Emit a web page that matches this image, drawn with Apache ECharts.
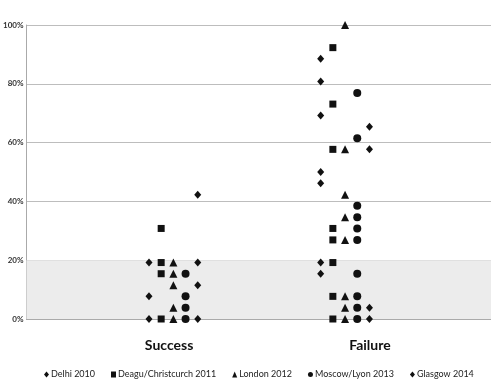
<!DOCTYPE html>
<html>
<head>
<meta charset="utf-8">
<script src="https://cdn.jsdelivr.net/npm/echarts@6/dist/echarts.min.js"></script>
<style>html,body{margin:0;padding:0;background:#fff}#c{width:491px;height:391px}</style>
</head>
<body>
<div id="c"></div>
<script>
// Categories and series names
const categories = ['Success', 'Failure'];
const seriesNames = ['Delhi 2010', 'Deagu/Christcurch 2011', 'London 2012', 'Moscow/Lyon 2013', 'Glasgow 2014'];
const yTicks = ['0%', '20%', '40%', '60%', '80%', '100%'];

// Values (% of events) per series, per category [Success, Failure]
const delhi2010   = [[19.2, 7.7, 0], [88.5, 80.8, 69.2, 50.0, 46.2, 19.2, 15.4]];
const deagu2011   = [[30.8, 19.2, 15.4, 0], [92.3, 73.1, 57.7, 30.8, 26.9, 19.2, 7.7, 0]];
const london2012  = [[19.2, 15.4, 11.5, 3.8, 0], [100, 57.7, 42.3, 34.6, 26.9, 7.7, 3.8, 0]];
const moscow2013  = [[15.4, 7.7, 3.8, 0], [76.9, 61.5, 38.5, 34.6, 30.8, 26.9, 15.4, 7.7, 3.8, 0]];
const glasgow2014 = [[42.3, 19.2, 11.5, 0], [65.4, 57.7, 3.8, 0]];

const allSeries = [delhi2010, deagu2011, london2012, moscow2013, glasgow2014];
const symbols = ['diamond', 'rect', 'triangle', 'circle', 'diamond'];
const sizes = [[7, 8], 7, 8, 8, [7, 8]];
const spread = 0.071; // horizontal side-by-side spacing of series within a category

const font = 'Lato, "Open Sans", sans-serif';

const series = allSeries.map((vals, si) => {
  const data = [];
  vals.forEach((arr, ci) => {
    arr.forEach(v => data.push([ci + 1 + (si - 2) * spread, v / 100]));
  });
  return {
    name: seriesNames[si],
    type: 'scatter',
    symbol: symbols[si],
    symbolSize: sizes[si],
    itemStyle: { color: '#111', opacity: 1 },
    data: data,
    z: 3
  };
});

series.push({
  type: 'scatter',
  data: [],
  silent: true,
  markArea: {
    silent: true,
    itemStyle: { color: '#ececec' },
    data: [[{ yAxis: 0 }, { yAxis: 0.2 }]]
  },
  z: 1
});

const chart = echarts.init(document.getElementById('c'));
chart.setOption({
  animation: false,
  backgroundColor: '#fff',
  grid: { left: 23, right: 0, top: 25, bottom: 72, containLabel: false },
  xAxis: {
    type: 'value',
    min: 0.1445,
    max: 2.85,
    splitLine: { show: false },
    axisLine: { show: true, onZero: false, lineStyle: { color: '#aaa', width: 1 } },
    axisTick: { show: false },
    axisLabel: {
      customValues: [0.975, 2.145],
      formatter: v => (v < 1.5 ? categories[0] : categories[1]),
      fontFamily: font,
      fontWeight: 'bold',
      fontSize: 14,
      color: '#111',
      margin: 19
    }
  },
  yAxis: {
    type: 'value',
    min: 0,
    max: 1,
    interval: 0.2,
    axisLine: { show: true, lineStyle: { color: '#aaa', width: 1 } },
    axisTick: { show: false },
    splitLine: { show: true, lineStyle: { color: '#bdbdbd', width: 1 } },
    axisLabel: {
      formatter: v => yTicks[Math.round(v * 5)],
      fontFamily: font,
      fontWeight: 'bold',
      fontSize: 8,
      color: '#333',
      margin: 3
    }
  },
  legend: {
    data: seriesNames.map((n, i) => ({ name: n, icon: symbols[i] })),
    left: 39,
    top: 365,
    itemWidth: 5,
    itemHeight: 6,
    itemGap: 16,
    textStyle: { fontFamily: font, fontSize: 9, color: '#222', padding: [0, 0, 0, -3] },
    selectedMode: false
  },
  series: series
});
</script>
</body>
</html>
